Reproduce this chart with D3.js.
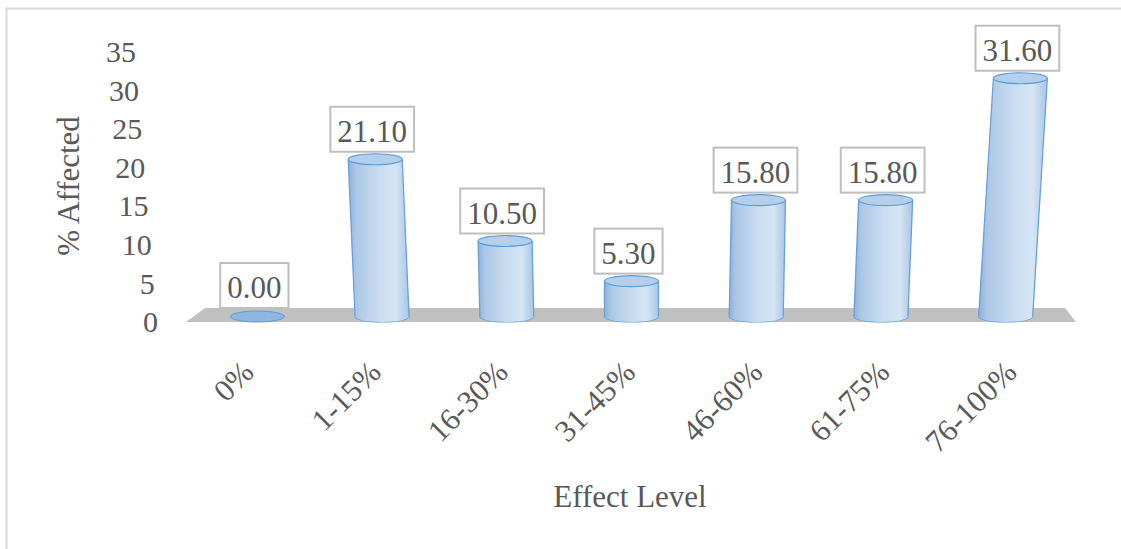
<!DOCTYPE html>
<html>
<head>
<meta charset="utf-8">
<script src="https://cdn.jsdelivr.net/npm/d3@7"></script>
<style>
  html, body { margin: 0; padding: 0; background: #ffffff; }
  svg { display: block; }
  text { font-family: "Liberation Serif", "Times New Roman", serif; fill: #595959; }
</style>
</head>
<body>
<svg id="chart" width="1121" height="549"></svg>
<script>
// Effect level categories and share of cases affected (%)
const categories = ["0%", "1-15%", "16-30%", "31-45%", "46-60%", "61-75%", "76-100%"];
const affected = [0.00, 21.10, 10.50, 5.30, 15.80, 15.80, 31.60];
const yTicks = [0, 5, 10, 15, 20, 25, 30, 35];

const W = 1121, H = 549;
const svg = d3.select("#chart");

// outer frame (runs off the right and bottom edges)
svg.append("rect")
  .attr("x", 6.5).attr("y", 8.5)
  .attr("width", W + 20).attr("height", H + 20)
  .attr("fill", "none").attr("stroke", "#d9d9d9").attr("stroke-width", 2);

// 3-D floor geometry: front edge and back edge of the base plate
const floorFront = 322, floorBack = 308, floorMid = 315.5;
const xFront = d3.scaleBand().domain(categories).range([186, 1076]);
const xMid = d3.scaleBand().domain(categories).range([195, 1068]);
const y = d3.scaleLinear().domain([0, 35]).range([322, 52]);

// perspective lean: vertical edges fan out from the centre as they rise
const vanishX = 640, lean = 0.00017;
const leanAt = (x, y0, y1) => x + lean * (x - vanishX) * (y0 - y1);

// floor plate
svg.append("path")
  .attr("d", `M186,${floorFront} L205,${floorBack} L1065,${floorBack} L1076,${floorFront} Z`)
  .attr("fill", "#c0c0c0");

// cylinder shading
const defs = svg.append("defs");
const grad = defs.append("linearGradient").attr("id", "cyl").attr("x1", "0").attr("x2", "1").attr("y1", "0").attr("y2", "0");
[[0, "#8fb0d6"], [0.12, "#abc7e6"], [0.5, "#c8dcf0"], [0.78, "#d5e5f5"], [1, "#a8c5e6"]]
  .forEach(([o, c]) => grad.append("stop").attr("offset", o).attr("stop-color", c));

const rx = 27, ry = 5.5;
const bars = svg.append("g");

categories.forEach((cat, i) => {
  const v = affected[i];
  const cx = xMid(cat) + xMid.bandwidth() / 2;
  const base = floorMid;
  const top = Math.min(y(v), base);
  const g = bars.append("g");
  if (base - top < 1) {
    // zero-height cylinder: only its disc lies on the floor
    g.append("ellipse").attr("cx", cx).attr("cy", base + 1)
      .attr("rx", rx).attr("ry", ry)
      .attr("fill", "#8fb6e2").attr("stroke", "#5b9bd5").attr("stroke-width", 1);
    return;
  }
  const tx = leanAt(cx, base, top);
  // bottom disc
  g.append("ellipse").attr("cx", cx).attr("cy", base + 1)
    .attr("rx", rx).attr("ry", ry)
    .attr("fill", "#a9c7e8").attr("stroke", "#5b9bd5").attr("stroke-width", 1.2);
  // side wall
  g.append("path")
    .attr("d", `M${cx - rx},${base + 1} L${tx - rx},${top} L${tx + rx},${top} L${cx + rx},${base + 1}
                A${rx},${ry} 0 0 1 ${cx - rx},${base + 1} Z`)
    .attr("fill", "url(#cyl)");
  g.append("path")
    .attr("d", `M${cx - rx},${base + 1} L${tx - rx},${top} M${tx + rx},${top} L${cx + rx},${base + 1}`)
    .attr("fill", "none").attr("stroke", "#6aa1d8").attr("stroke-width", 1.3);
  // top disc
  g.append("ellipse").attr("cx", tx).attr("cy", top)
    .attr("rx", rx).attr("ry", ry)
    .attr("fill", "#b3cfec").attr("stroke", "#5b9bd5").attr("stroke-width", 1.2);
});

// data labels in boxes
const labels = svg.append("g");
categories.forEach((cat, i) => {
  const v = affected[i];
  const cx = xMid(cat) + xMid.bandwidth() / 2;
  const top = Math.min(y(v), floorMid);
  const tx = leanAt(cx, floorMid, top) - 3;
  const boxBottom = top - ry - 2;
  const g = labels.append("g");
  const t = g.append("text")
    .attr("x", tx).attr("y", boxBottom - 10)
    .attr("text-anchor", "middle")
    .attr("font-size", 31)
    .text(v.toFixed(2));
  const w = t.node().getComputedTextLength() + 14;
  g.insert("rect", "text")
    .attr("x", tx - w / 2).attr("y", boxBottom - 45)
    .attr("width", w).attr("height", 45)
    .attr("fill", "#ffffff").attr("stroke", "#bfbfbf").attr("stroke-width", 2);
});

// value axis labels, leaning with the perspective
svg.append("g").selectAll("text")
  .data(yTicks).join("text")
  .attr("x", d => leanAt(158, 322, y(d)))
  .attr("y", d => y(d))
  .attr("dy", "0.34em")
  .attr("text-anchor", "end")
  .attr("font-size", 30)
  .text(d => d);

// category labels, rotated
svg.append("g").selectAll("text")
  .data(categories).join("text")
  .attr("transform", d => `translate(${xFront(d) + xFront.bandwidth() / 2 + 6},374) rotate(-45)`)
  .attr("text-anchor", "end")
  .attr("font-size", 31)
  .text(d => d);

// axis titles
svg.append("text")
  .attr("x", 630).attr("y", 507)
  .attr("text-anchor", "middle")
  .attr("font-size", 31)
  .text("Effect Level");

svg.append("text")
  .attr("transform", "translate(79,186) rotate(-90)")
  .attr("text-anchor", "middle")
  .attr("font-size", 31)
  .text("% Affected");
</script>
</body>
</html>
